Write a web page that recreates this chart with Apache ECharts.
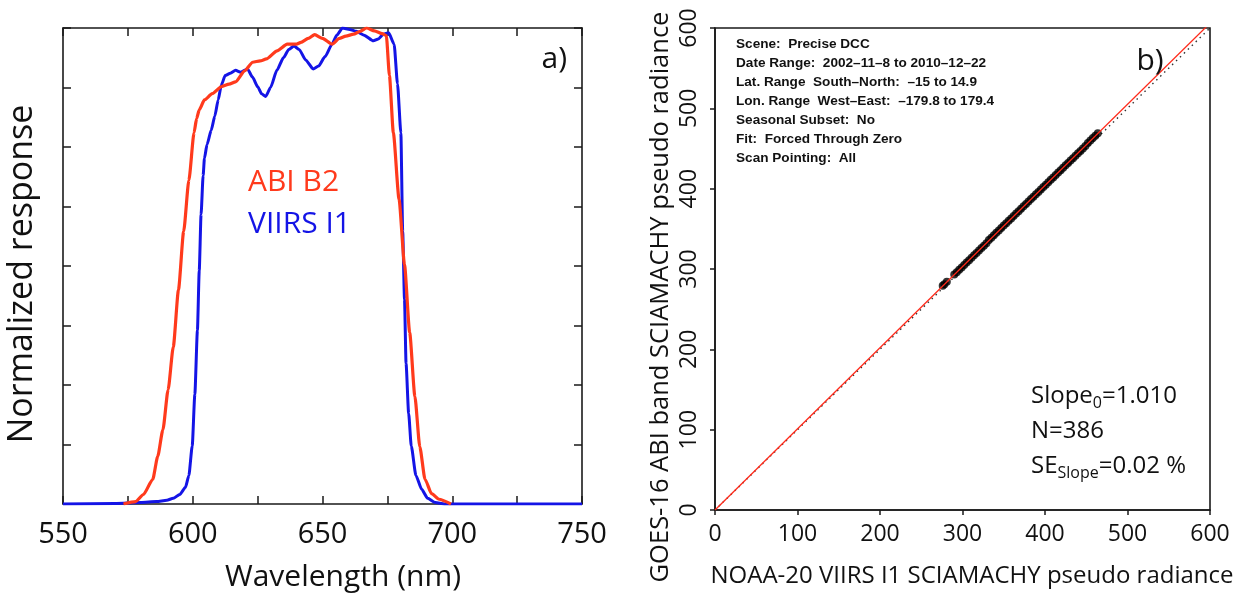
<!DOCTYPE html>
<html><head><meta charset="utf-8">
<script src="https://cdn.jsdelivr.net/npm/echarts@6/dist/echarts.min.js"></script>
<style>html,body{margin:0;padding:0;background:#fff}#c{width:1250px;height:594px}</style>
</head><body><div id="c"></div>
<script>
// ---------- data ----------
const abiB2 = [[573.3,0],[578,0.005],[581,0.02],[584.6,0.052],[586.5,0.1],[588.5,0.156],[590.5,0.24],[592.5,0.33],[594.5,0.45],[596.5,0.573],[598.5,0.68],[600.5,0.78],[601.5,0.81],[602.5,0.828],[604.5,0.849],[607.5,0.862],[611.1,0.877],[614,0.882],[616.5,0.887],[620,0.91],[623.1,0.928],[626,0.931],[628.4,0.935],[632.5,0.952],[636.4,0.966],[640,0.966],[641.7,0.97],[644.5,0.978],[647,0.986],[650,0.978],[653.7,0.966],[656.5,0.978],[659,0.983],[662,0.987],[664.5,0.993],[667,1.0],[670,0.994],[673,0.988],[674.6,0.984],[675.8,0.9],[677.3,0.78],[679.5,0.64],[681.6,0.503],[683.6,0.36],[685.6,0.226],[687.5,0.12],[689.5,0.052],[692,0.022],[694.9,0.01],[699.5,0]];
const viirsI1 = [[550,0],[570,0.001],[580,0.003],[586,0.005],[590,0.008],[592.5,0.012],[595,0.02],[597.2,0.035],[598.5,0.06],[599.8,0.122],[600.8,0.23],[601.8,0.365],[602.5,0.49],[603.2,0.608],[604,0.69],[604.5,0.726],[605.5,0.755],[607.1,0.785],[608.5,0.815],[609.8,0.849],[611,0.88],[612.5,0.9],[614.5,0.905],[616.5,0.911],[618.5,0.907],[621.1,0.914],[623,0.897],[625.1,0.876],[626.5,0.862],[628.1,0.856],[630,0.875],[632.4,0.911],[635,0.938],[637,0.955],[639,0.962],[641,0.955],[643.5,0.933],[646.4,0.914],[648.5,0.92],[651,0.94],[653.7,0.966],[655.5,0.985],[657.7,1.0],[660.5,0.997],[663,0.993],[666,0.985],[669.6,0.973],[671.5,0.977],[673.5,0.987],[675.5,0.99],[677.6,0.966],[678.9,0.883],[680.2,0.78],[680.9,0.573],[681.6,0.43],[682.2,0.295],[683.2,0.19],[684.2,0.122],[686,0.06],[688.2,0.031],[690.5,0.012],[693.5,0.003],[697,0],[750,0]];
const wavelengthLabels = [550,600,650,700,750];
const radianceTicks = [0,100,200,300,400,500,600];
const scatterPoints = [[276,279],[278,281],[281,284],[290,293],[293,296],[296,299],[299,302],[302,305],[305,308],[308,311],[311,314],[314,317],[317,320],[320,323],[323,326],[326,329],[329,332],[332,336],[335,339],[338,342],[341,345],[344,348],[347,351],[350,354],[353,357],[356,360],[359,363],[362,366],[365,369],[368,372],[371,375],[374,378],[377,381],[380,384],[383,387],[386,390],[389,393],[392,396],[395,399],[398,402],[401,405],[404,408],[407,411],[410,414],[413,417],[416,420],[419,423],[422,426],[425,429],[428,432],[431,435],[434,438],[437,441],[440,444],[443,447],[446,450],[449,453],[452,457],[455,460],[458,463],[461,466],[464,469]];
const fitLine = [[0,0],[600,606]];
const oneToOneLine = [[0,0],[600,600]];
const infoLines = ['Scene:  Precise DCC','Date Range:  2002–11–8 to 2010–12–22','Lat. Range  South–North:  –15 to 14.9','Lon. Range  West–East:  –179.8 to 179.4','Seasonal Subset:  No','Fit:  Forced Through Zero','Scan Pointing:  All'];
const statsLines = ['{a|Slope}{s|0}{a|=1.010}','{a|N=386}','{a|SE}{s|Slope}{a|=0.02 %}'];

// ---------- chart ----------
const FONT = "'Open Sans', 'Noto Sans', sans-serif";
const INK = '#1a1a1a';
const RED = '#ff3a1c';
const BLUE = '#1414e6';
const axLine = {show:true, onZero:false, lineStyle:{color:INK, width:1.6}};
const inTick = {show:true, inside:true, length:8, lineStyle:{color:INK, width:1.5}};
const outTick = {show:true, inside:false, length:5, lineStyle:{color:INK, width:1.5}};

const graphic = [];
function txt(x, y, text, size, color, extra) {
  const e = {type:'text', x:x, y:y, z:100, style:Object.assign({text:text, fontSize:size, fontFamily:FONT, fill:color,
    align:'left', verticalAlign:'middle', textAlign:'left', textVerticalAlign:'middle'}, extra && extra.style || {})};
  if (extra && extra.rotation) e.rotation = extra.rotation;
  graphic.push(e);
}
txt(567, 59, 'a)', 30, '#111', {style:{align:'right', textAlign:'right'}});
txt(1150, 61, 'b)', 30, '#111', {style:{align:'center', textAlign:'center'}});
txt(248, 182, 'ABI B2', 30, RED, {style:{fontWeight:500}});
txt(248, 224, 'VIIRS I1', 30, BLUE, {style:{fontWeight:500}});
txt(343, 577, 'Wavelength (nm)', 30, '#111', {style:{align:'center', textAlign:'center'}});
txt(22, 274, 'Normalized response', 34, '#111', {rotation:Math.PI/2, style:{align:'center', textAlign:'center'}});
txt(972, 576, 'NOAA-20 VIIRS I1 SCIAMACHY pseudo radiance', 24, '#111', {style:{align:'center', textAlign:'center'}});
txt(661, 297, 'GOES-16 ABI band SCIAMACHY pseudo radiance', 25.5, '#111', {rotation:Math.PI/2, style:{align:'center', textAlign:'center'}});
infoLines.forEach((s, i) => {
  txt(736, 44 + i * 19.1, s, 13.6, '#111', {style:{fontFamily:"'Liberation Sans', Arial, sans-serif", fontWeight:'bold'}});
});
const rich = {
  a:{fontSize:24, fontFamily:FONT, fill:'#111', color:'#111', lineHeight:30},
  s:{fontSize:16, fontFamily:FONT, fill:'#111', color:'#111', lineHeight:16, verticalAlign:'bottom'}
};
statsLines.forEach((s, i) => {
  graphic.push({type:'text', x:1031, y:381 + i * 35, z:100,
    style:{text:s, rich:rich, align:'left', verticalAlign:'top', textAlign:'left', textVerticalAlign:'top'}});
});

const option = {
  animation:false,
  backgroundColor:'#fff',
  grid:[
    {left:63, top:28, width:519, height:476},
    {left:715, top:28, width:495, height:482, show:true, borderColor:INK, borderWidth:1.6, backgroundColor:'transparent'}
  ],
  xAxis:[
    {gridIndex:0, type:'value', min:550, max:750, interval:25, position:'bottom', axisLine:axLine, axisTick:inTick,
     axisLabel:{margin:16, fontSize:29, fontFamily:FONT, color:'#111', formatter:v => wavelengthLabels.includes(v) ? String(v) : ''},
     splitLine:{show:false}},
    {gridIndex:0, type:'value', min:550, max:750, interval:25, position:'top', axisLine:axLine, axisTick:inTick,
     axisLabel:{show:false}, splitLine:{show:false}},
    {gridIndex:1, type:'value', min:0, max:600, interval:100, position:'bottom', axisLine:axLine, axisTick:outTick,
     axisLabel:{margin:13, fontSize:23, fontFamily:FONT, color:'#111', formatter:v => radianceTicks.includes(v) ? String(v) : ''},
     splitLine:{show:false}}
  ],
  yAxis:[
    {gridIndex:0, type:'value', min:0, max:1, interval:0.125, position:'left', axisLine:axLine, axisTick:inTick,
     axisLabel:{show:false}, splitLine:{show:false}},
    {gridIndex:0, type:'value', min:0, max:1, interval:0.125, position:'right', axisLine:axLine, axisTick:inTick,
     axisLabel:{show:false}, splitLine:{show:false}},
    {gridIndex:1, type:'value', min:0, max:600, interval:100, position:'left', axisLine:axLine, axisTick:outTick,
     axisLabel:{rotate:90, margin:14, fontSize:23, fontFamily:FONT, color:'#111', formatter:v => radianceTicks.includes(v) ? String(v) : ''},
     splitLine:{show:false}}
  ],
  series:[
    {name:'VIIRS I1', type:'line', xAxisIndex:0, yAxisIndex:0, data:viirsI1, showSymbol:false, smooth:0.2, smoothMonotone:'x',
     lineStyle:{color:BLUE, width:3}, z:2},
    {name:'ABI B2', type:'line', xAxisIndex:0, yAxisIndex:0, data:abiB2, showSymbol:false, smooth:0.2, smoothMonotone:'x',
     lineStyle:{color:RED, width:3.2}, z:3},
    {name:'1:1', type:'line', xAxisIndex:2, yAxisIndex:2, data:oneToOneLine, showSymbol:false,
     lineStyle:{color:'#333', width:1.4, type:[1.5,4]}, z:2},
    {name:'DCC', type:'scatter', xAxisIndex:2, yAxisIndex:2, data:scatterPoints, symbolSize:8,
     itemStyle:{color:'#000'}, z:3},
    {name:'Fit', type:'line', xAxisIndex:2, yAxisIndex:2, data:fitLine, showSymbol:false,
     lineStyle:{color:'#ff2a1a', width:1.3}, z:4}
  ],
  graphic:graphic
};
const chart = echarts.init(document.getElementById('c'));
chart.setOption(option);
</script>
</body></html>
